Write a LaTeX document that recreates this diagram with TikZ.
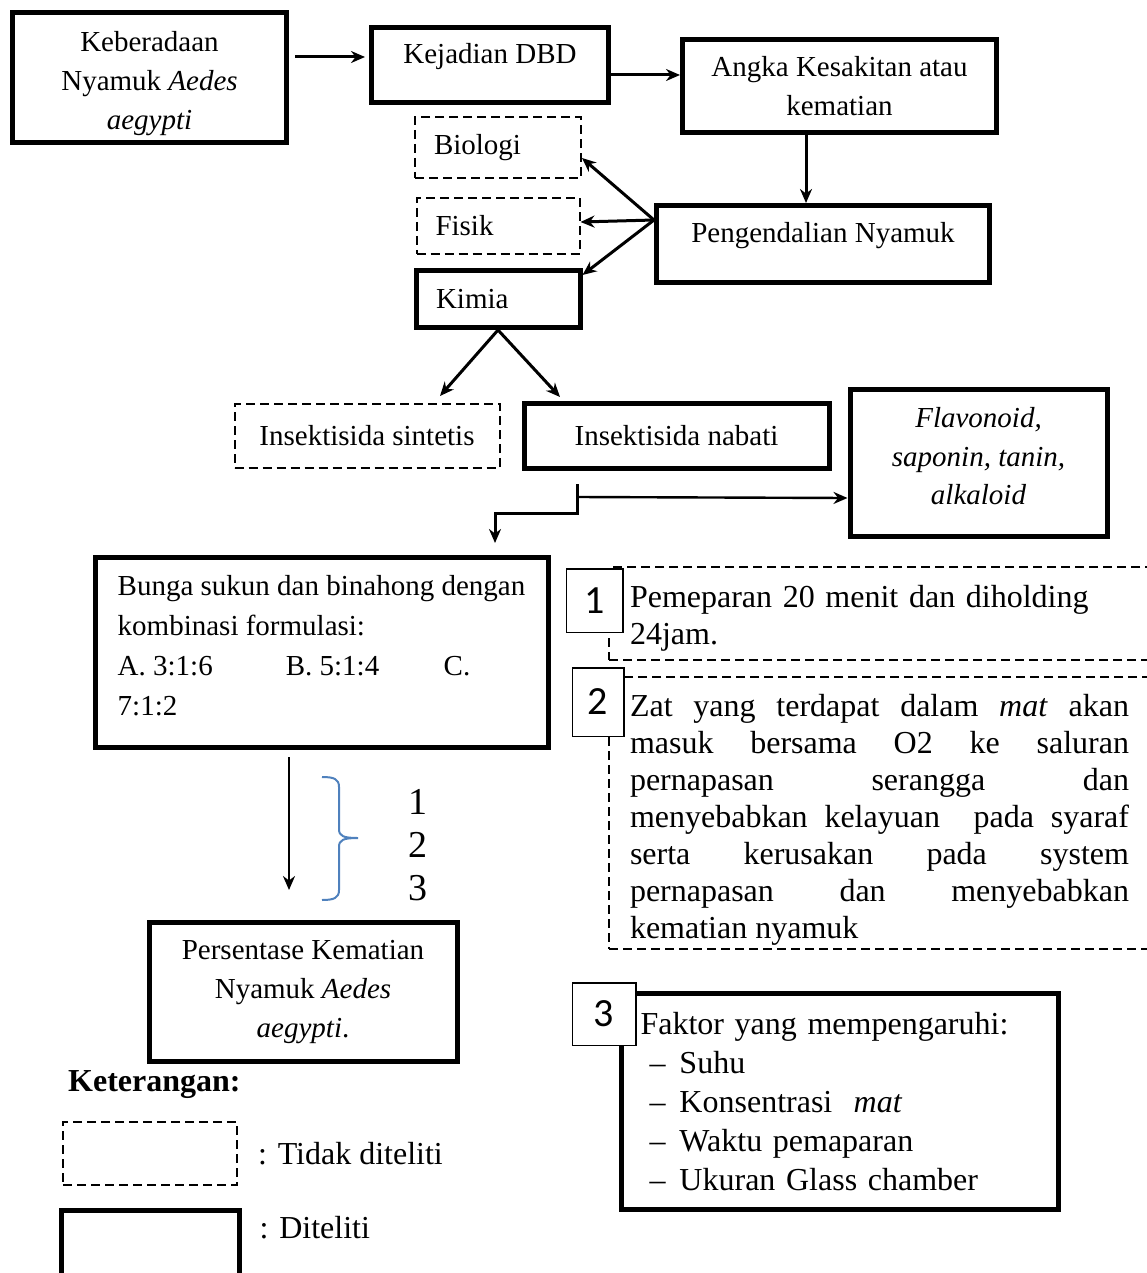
\documentclass[tikz,border=0pt]{standalone}
\usepackage{fontspec}
\setmainfont{Liberation Serif}
\newfontfamily\nomfont{Carlito}
\usepackage{tikz}
\usetikzlibrary{positioning,arrows.meta}
\definecolor{birukurung}{RGB}{79,129,189}

\begin{document}
\begin{tikzpicture}[
      x=1pt, y=-1pt,
      nodes={
        inner sep=0pt, align=center,
        font=\fontsize{29}{39}\selectfont
      },
      diteliti/.style={draw, line width=5pt},
      tdkditeliti/.style={draw, line width=2pt, dash pattern=on 9pt off 5pt},
      kiri/.style={align=left, inner xsep=19pt},
      kanan/.style={font=\fontsize{32}{37}\selectfont},
      miring/.style={font=\fontsize{29}{38.5}\selectfont\itshape},
      nomor/.style={draw, line width=1.5pt, fill=white, font=\nomfont\fontsize{40}{40}\selectfont},
      panah/.style={->, line width=3pt},
      >={Stealth[length=14pt,width=12pt]}
      ]

      \useasboundingbox (0,0) rectangle (1147,1273);
      \clip (0,0) rectangle (1147,1273);

      \node[diteliti, minimum width=274pt, minimum height=130pt] (keb) at (149.5,77.5)
        {\rule{0pt}{32pt}Keberadaan\\ Nyamuk \textit{Aedes}\\ \textit{aegypti}};
      \node[diteliti, minimum width=237pt, minimum height=75pt, text height=20pt, text depth=23pt,
        right=80pt of keb, yshift=12.5pt] (dbd) {Kejadian DBD};
      \node[diteliti, minimum width=314pt, minimum height=93pt,
        right=69pt of dbd, yshift=-21pt] (angka) {Angka Kesakitan atau\\ kematian};
      \node[diteliti, minimum width=333pt, minimum height=77pt, text height=20pt, text depth=23pt,
        below=68pt of angka, xshift=-16.5pt] (kendali) {Pengendalian Nyamuk};

      \node[tdkditeliti, kiri, text width=128pt, minimum height=61pt,
        below=11pt of dbd, xshift=8pt] (bio) {Biologi};
      \node[tdkditeliti, kiri, text width=125pt, minimum height=56pt, below=18pt of bio] (fis) {Fisik};
      \node[diteliti, kiri, inner xsep=20pt, text width=124pt, minimum height=57pt,
        below=13pt of fis] (kim) {Kimia};

      \node[tdkditeliti, minimum width=265pt, minimum height=64pt,
        below=73pt of kim, xshift=-131pt] (sint) {Insektisida sintetis};
      \node[diteliti, minimum width=305pt, minimum height=65pt, right=21pt of sint] (nab) {Insektisida nabati};
      \node[diteliti, miring, minimum width=257pt, minimum height=147pt, text depth=14pt,
        right=16pt of nab, yshift=-27pt] (flav) {Flavonoid,\\ saponin, tanin,\\ alkaloid};

      \node[diteliti, align=left, font=\fontsize{29}{40}\selectfont, minimum width=453pt,
        minimum height=190pt, text depth=15pt, below=86pt of sint, xshift=-45.5pt] (bunga)
        {Bunga sukun dan binahong dengan\\ kombinasi formulasi:\\
         A. 3:1:6\hspace{73pt}B. 5:1:4\hspace{64.5pt}C.\\ 7:1:2};
      \node[diteliti, minimum width=308pt, minimum height=139pt,
        below=170pt of bunga, xshift=-18.5pt] (pers)
        {Persentase Kematian\\ Nyamuk \textit{Aedes}\\ \textit{aegypti}.};

      % keterangan 1 2 3
      \node[tdkditeliti, kanan, align=left, text width=499pt, inner xsep=21pt, minimum height=93pt,
        below right=11pt and 57.5pt of bunga.north east] (jelas1)
        {\rule{0pt}{32pt}Pemeparan 20 menit dan diholding\\ 24jam.};
      \node[tdkditeliti, kanan, align=justify, text width=499pt, inner xsep=21pt, minimum height=272pt,
        below=15pt of jelas1] (jelas2)
        {\rule{0pt}{36pt}Zat yang terdapat dalam \textit{mat} akan\linebreak
         masuk bersama O2 ke saluran\linebreak
         pernapasan serangga dan\linebreak
         menyebabkan kelayuan\ \ pada syaraf\linebreak
         serta kerusakan pada system\linebreak
         pernapasan dan menyebabkan\linebreak
         kematian nyamuk};
      \node[diteliti, align=left, font=\fontsize{32}{39}\selectfont, text width=398pt, inner xsep=19.5pt,
        minimum height=216pt, below=41pt of jelas2, xshift=-40pt] (faktor)
        {Faktor yang mempengaruhi:\\
         \hspace*{9pt}--\hspace{14pt}Suhu\\
         \hspace*{9pt}--\hspace{14pt}Konsentrasi\ \ \textit{mat}\\
         \hspace*{9pt}--\hspace{14pt}Waktu pemaparan\\
         \hspace*{9pt}--\hspace{14pt}Ukuran Glass chamber};

      \node[nomor, minimum width=56.5pt, minimum height=63.5pt,
        below right=2pt and 15.5pt of jelas1.north west, anchor=north east] (no1) {1};
      \node[nomor, minimum width=51.5pt, minimum height=68.5pt,
        above right=9pt and 16.5pt of jelas2.north west, anchor=north east] (no2) {2};
      \node[nomor, minimum width=63.5pt, minimum height=62.5pt,
        above right=9pt and 18pt of faktor.north west, anchor=north east] (no3) {3};

      \node[font=\fontsize{38}{43}\selectfont] (urutan) at (418,845) {1\\2\\3};

      % legenda
      \node[font=\fontsize{32}{38}\selectfont\bfseries, anchor=west] (ket) at (68,1085) {Keterangan:};
      \node[tdkditeliti, minimum width=174pt, minimum height=63pt] (legtdk) at (150,1153.5) {};
      \node[font=\fontsize{32}{38}\selectfont, right=20pt of legtdk] (lbltdk) {: Tidak diteliti};
      \node[diteliti, minimum width=178pt, minimum height=77pt, below=22pt of legtdk] (legya) {};
      \node[font=\fontsize{32}{38}\selectfont, right=18pt of legya, yshift=21pt] (lblya) {: Diteliti};


  % Connect the nodes
  \draw[panah] ([xshift=6pt,yshift=20.5pt]keb.east) -- ([xshift=-4pt,yshift=8pt]dbd.west);
  \draw[panah] ([yshift=-10pt]dbd.east) -- ([yshift=11pt]angka.west);
  \draw[panah] ([xshift=-33.5pt]angka.south) -- ([xshift=-17pt]kendali.north);
  \draw[panah] ([yshift=24pt]kendali.west) -- ([yshift=-10.5pt]bio.east);
  \draw[panah] ([yshift=24pt]kendali.west) -- ([yshift=4pt]fis.east);
  \draw[panah] ([yshift=24pt]kendali.west) -- ([yshift=-7pt]kim.north east);
  \draw[panah] (kim.south) -- ([xshift=73pt,yshift=7pt]sint.north);
  \draw[panah] (kim.south) -- ([xshift=-116.5pt,yshift=4pt]nab.north);
  \draw[panah] ([xshift=-99.5pt,yshift=-13pt]nab.south) -- ++(0pt,-29pt)
    -| ([xshift=173.5pt,yshift=12pt]bunga.north);
  \draw[panah, line width=2.4pt] ([xshift=-99.5pt,yshift=-26pt]nab.south) -- ([yshift=-35pt]flav.west);
  \draw[panah, line width=2.4pt] ([xshift=-32.5pt,yshift=-7pt]bunga.south) -- ([xshift=-14pt,yshift=30pt]pers.north);

  % kurung biru
  \draw[birukurung, line width=2pt] (322,777) .. controls (334,777) and (339,779) .. (339,787)
    -- (339,829) .. controls (339,836) and (343,838) .. (358,838)
    .. controls (343,838) and (339,840) .. (339,847)
    -- (339,890) .. controls (339,898) and (334,900) .. (322,900);

\end{tikzpicture}
\end{document}
